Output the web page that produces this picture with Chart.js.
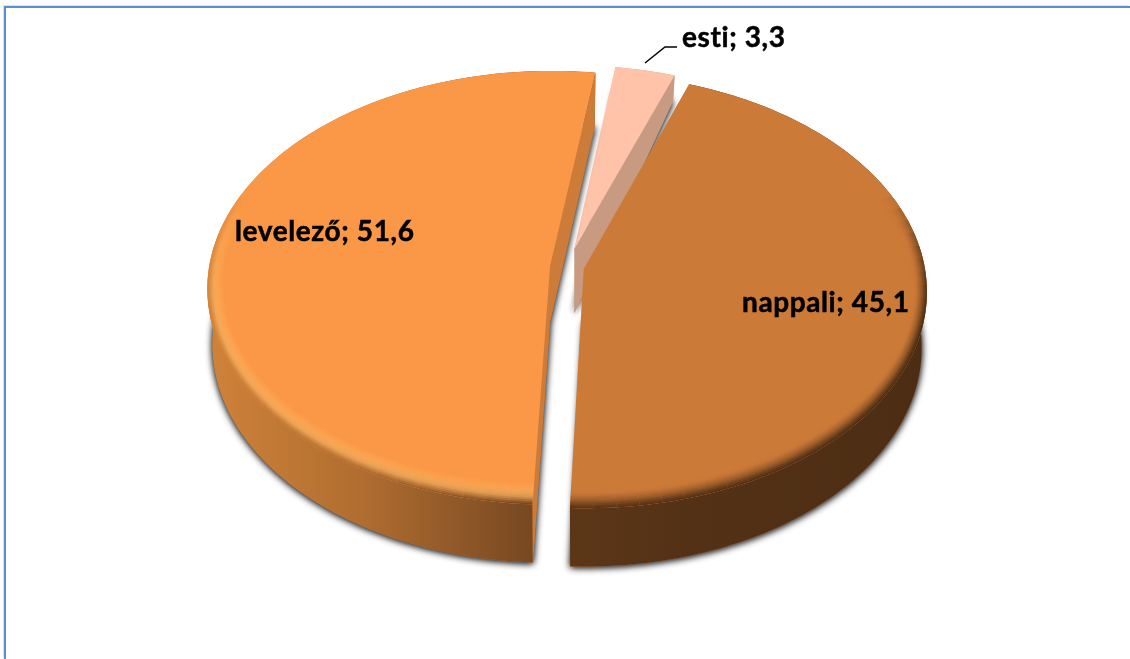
<!DOCTYPE html>
<html lang="hu">
  <head>
    <meta charset="UTF-8" />
    <title>Tagozat</title>
    <style>
      html, body { margin: 0; height: 100%; background: #fff; overflow: hidden; }
      /* kék keret: csak felül és balra látszik */
      #frame {
        position: absolute; left: 4px; top: 6px; right: 0; bottom: 0;
        border-top: 2px solid #5b8fd0; border-left: 2px solid #5b8fd0;
        box-shadow: -1px -1px 0 #d5e2f2;
      }
      #chartBox { position: absolute; left: 2px; top: -113px; width: 1130px; height: 760px; }
    </style>
  </head>
  <body>
    <div id="frame"></div>
    <div id="chartBox"><canvas id="pie" width="1130" height="760"></canvas></div>
    <script src="https://cdn.jsdelivr.net/npm/chart.js"></script>
    <script>
      const categories = ["nappali", "levelező", "esti"];
      const values = [45.1, 51.6, 3.3];
      const sliceColors = ["#cc7a38", "#fa9847", "#fec3a8"];
      const faceColors = ["#cc7a38", "#cc7c38", "#c89a82"];
      const explode = [17, 17, 30];
      const sliceScale = [1, 1, 0.95];
      const rimDepth = [56, 56, 25];
      const apexDepth = [56, 56, 65];

      const squash = 0.63; // ellipszis lapultsága
      const persp = 0.1; // elöl nagyobb, hátul kisebb
      const lowScale = 0.985; // az alsó lap kicsit kisebb
      const canvasTop = 113; // a vászon ennyivel lóg ki felül

      // fali színátmenet balról jobbra, slice-onként
      const wallStops = [
        [[570, "#5c3617"], [700, "#533116"], [925, "#4c2d13"]],
        [[207, "#cf8239"], [360, "#b06d30"], [530, "#774822"]],
        [[570, "#c89a82"], [680, "#c89a82"]],
      ];
      // perem: belülről kifelé
      const bevelStops = [
        ["#cc7a38", "#cc7a38", "#b46a30", "#7c4a20"],
        ["#fa9847", "#fca552", "#ffb662", "#e8934a"],
        null,
      ];
      const labelSpots = [
        { x: 742, y: 303 },
        { x: 235, y: 232 },
        { x: 682, y: 38 },
      ];

      function rgb(hex) {
        return [1, 3, 5].map((i) => parseInt(hex.substr(i, 2), 16));
      }
      function mix(a, b, t) {
        return a.map((v, i) => v + (b[i] - v) * t);
      }
      function css(c) {
        return "rgb(" + c.map(Math.round).join(",") + ")";
      }
      function wallAt(i, x) {
        const st = wallStops[i];
        if (x <= st[0][0]) return rgb(st[0][1]);
        for (let k = 1; k < st.length; k++) {
          if (x <= st[k][0]) {
            return mix(rgb(st[k - 1][1]), rgb(st[k][1]), (x - st[k - 1][0]) / (st[k][0] - st[k - 1][0]));
          }
        }
        return rgb(st[st.length - 1][1]);
      }

      // síkbeli pont -> képernyő (vászon koordináta)
      function project(arc, mid, off, r, ang, down, lift) {
        const R = arc.outerRadius;
        const u = Math.cos(mid) * off + Math.cos(ang) * r;
        const v = Math.sin(mid) * off + Math.sin(ang) * r;
        const s = 1 / (1 - (persp * v) / R);
        return {
          x: arc.x + u * s,
          y: arc.y + v * squash * s + (down || 0) * s - (lift || 0) * Math.sin(ang),
        };
      }

      function tracePoints(ctx, pts, move) {
        pts.forEach((p, i) => (i == 0 && move ? ctx.moveTo(p.x, p.y) : ctx.lineTo(p.x, p.y)));
      }

      function rim(arc, mid, off, r, a0, a1, down, lift) {
        const n = Math.max(2, Math.ceil((a1 - a0) * 40));
        const pts = [];
        for (let i = 0; i <= n; i++) {
          pts.push(project(arc, mid, off, r, a0 + ((a1 - a0) * i) / n, down, lift));
        }
        return pts;
      }

      const pie3d = {
        id: "pie3d",
        beforeDatasetsDraw(chart) {
          const ctx = chart.ctx;
          const arcs = chart.getDatasetMeta(0).data;
          // hátsó szelet először, a két nagy utána
          [2, 1, 0].forEach((i) => {
            const arc = arcs[i];
            const a0 = arc.startAngle;
            const a1 = arc.endAngle;
            const mid = (a0 + a1) / 2;
            const off = explode[i];
            const R = arc.outerRadius * sliceScale[i];
            const top = rim(arc, mid, off, R, a0, a1, 0);
            const low = rim(arc, mid, off, R * lowScale, a0, a1, rimDepth[i]);
            const apex = project(arc, mid, off, 0, 0, 0);
            const apexLow = project(arc, mid, off, 0, 0, apexDepth[i]);

            // árnyék csak az alsó lapról, kétszer, hogy elég sötét legyen
            ctx.save();
            ctx.shadowColor = "rgba(0,0,0,0.7)";
            ctx.shadowBlur = 7;
            ctx.shadowOffsetY = 1;
            ctx.fillStyle = faceColors[i];
            for (let n = 0; n < 2; n++) {
              ctx.beginPath();
              ctx.moveTo(apexLow.x, apexLow.y);
              tracePoints(ctx, low);
              ctx.closePath();
              ctx.fill();
            }
            ctx.restore();

            // fal
            const grad = ctx.createLinearGradient(207, 0, 925, 0);
            wallStops[i].forEach(([x, c]) => grad.addColorStop((x - 207) / 718, c));
            ctx.fillStyle = grad;
            ctx.beginPath();
            tracePoints(ctx, top, true);
            tracePoints(ctx, low.slice().reverse());
            ctx.closePath();
            ctx.fill();

            // vágott oldalak: csak ami felénk néz
            const cuts = [];
            if (Math.cos(a0) < 0) cuts.push([top[0], low[0]]);
            if (Math.cos(a1) > 0) cuts.push([top[top.length - 1], low[low.length - 1]]);
            cuts.forEach(([p, q]) => {
              ctx.fillStyle = faceColors[i];
              ctx.beginPath();
              ctx.moveTo(apex.x, apex.y);
              ctx.lineTo(p.x, p.y);
              ctx.lineTo(q.x, q.y);
              ctx.lineTo(apexLow.x, apexLow.y);
              ctx.closePath();
              ctx.fill();
            });

            // felső lap
            ctx.fillStyle = arc.options.backgroundColor;
            ctx.beginPath();
            ctx.moveTo(apex.x, apex.y);
            tracePoints(ctx, top);
            ctx.closePath();
            ctx.fill();

            // domború perem, elöl erősebb és a fal színébe olvad
            const stops = bevelStops[i];
            if (!stops) return;
            ctx.save();
            ctx.beginPath();
            ctx.moveTo(apex.x, apex.y);
            tracePoints(ctx, top);
            ctx.closePath();
            ctx.clip();
            ctx.lineWidth = 2.5;
            ctx.lineCap = "butt";
            const rings = 12;
            const segs = Math.ceil((a1 - a0) * 16);
            for (let k = 0; k <= rings; k++) {
              const t = k / rings;
              const f = t * (stops.length - 1);
              const j = Math.min(Math.floor(f), stops.length - 2);
              const col = mix(rgb(stops[j]), rgb(stops[j + 1]), f - j);
              const r = R - 16 * (1 - t);
              const lift = 9 * (1 - t);
              for (let sg = 0; sg < segs; sg++) {
                const b0 = a0 + ((a1 - a0) * sg) / segs;
                const b1 = a0 + ((a1 - a0) * (sg + 1)) / segs;
                const fade = Math.min(1, Math.max(0, (Math.sin((b0 + b1) / 2) + 0.35) / 0.6));
                if (fade == 0) continue;
                const pts = rim(arc, mid, off, r, b0, b1, 0, lift);
                const wall = wallAt(i, pts[0].x);
                ctx.globalAlpha = fade;
                ctx.strokeStyle = css(mix(col, wall, t * t * t));
                ctx.beginPath();
                tracePoints(ctx, pts, true);
                ctx.stroke();
              }
            }
            ctx.restore();
          });

          // feliratok
          ctx.save();
          ctx.fillStyle = "#000";
          ctx.strokeStyle = "#000";
          ctx.lineWidth = 0.5;
          ctx.font = "bold 28px Lato";
          ctx.letterSpacing = "0.6px";
          ctx.textAlign = "left";
          ctx.textBaseline = "middle";
          categories.forEach((c, i) => {
            const txt = c + "; " + String(values[i]).replace(".", ",");
            ctx.fillText(txt, labelSpots[i].x - 2, labelSpots[i].y + canvasTop);
            ctx.strokeText(txt, labelSpots[i].x - 2, labelSpots[i].y + canvasTop);
          });
          // vezetővonal az esti címkéhez
          ctx.lineWidth = 1.5;
          ctx.beginPath();
          ctx.moveTo(643, 63 + canvasTop);
          ctx.lineTo(663, 47 + canvasTop);
          ctx.lineTo(675, 47 + canvasTop);
          ctx.stroke();
          ctx.restore();
          return false; // a sima lapos körcikkek nem kellenek
        },
      };

      new Chart(document.getElementById("pie"), {
        type: "pie",
        data: {
          labels: categories,
          datasets: [{ data: values, backgroundColor: sliceColors, borderWidth: 0, offset: explode }],
        },
        options: {
          responsive: false,
          animation: false,
          rotation: 20,
          radius: 341,
          plugins: { legend: { display: false }, tooltip: { enabled: false } },
        },
        plugins: [pie3d],
      });
    </script>
  </body>
</html>
